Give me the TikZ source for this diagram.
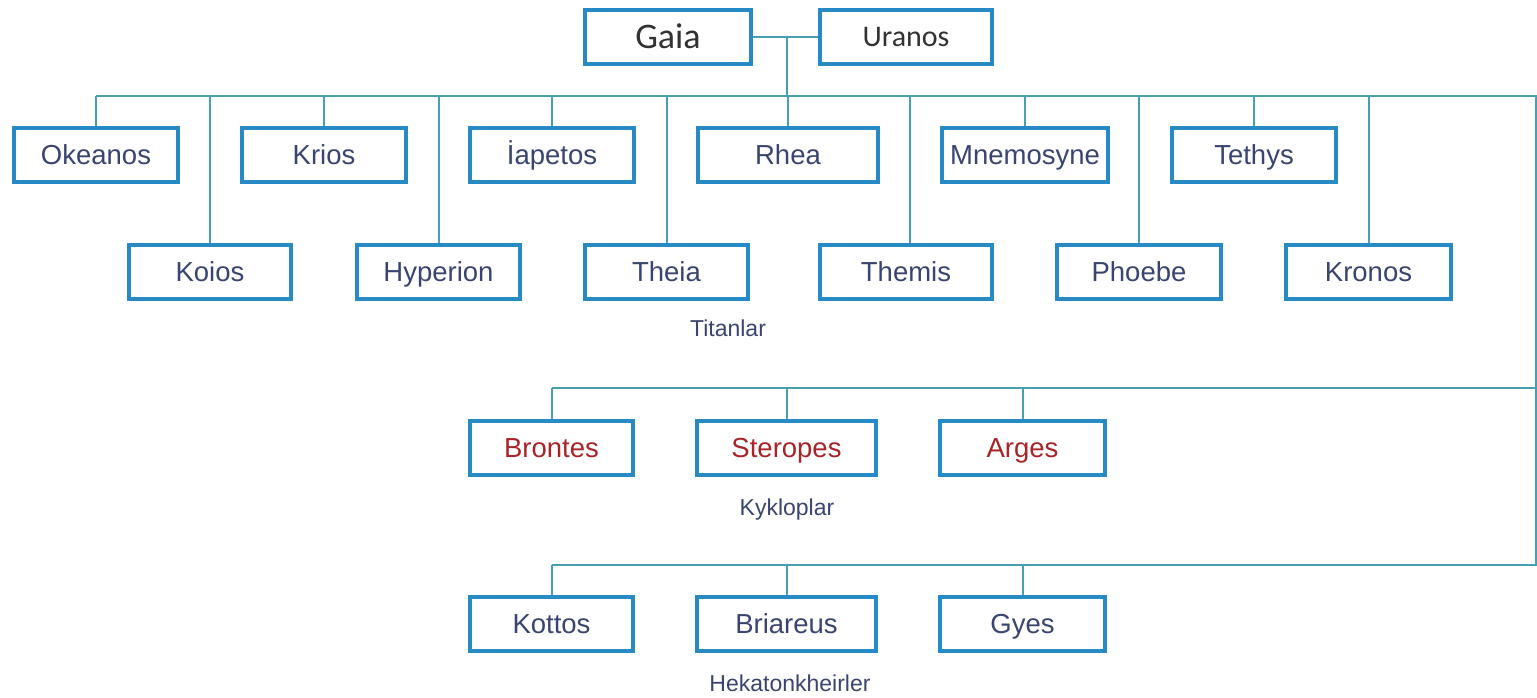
\documentclass[tikz,border=0pt]{standalone}
\usepackage{fontspec}
\setmainfont{Liberation Sans}
\newfontfamily\headfont{Carlito}
\definecolor{boxblue}{RGB}{40,138,196}
\definecolor{linecol}{RGB}{70,160,178}
\definecolor{nametext}{RGB}{58,68,112}
\definecolor{redtext}{RGB}{168,36,40}
\definecolor{headtext}{RGB}{50,50,50}
\begin{document}
\begin{tikzpicture}[x=1pt,y=-1pt,
  tbox/.style={draw=boxblue,line width=4pt,fill=white,inner sep=0pt,minimum height=54pt,minimum width=164pt,font=\fontsize{27.5}{30}\selectfont,text=nametext,text height=19.7pt,text depth=0pt},
  hbox/.style={tbox,font=\headfont\fontsize{30}{34}\selectfont,text=headtext,text height=19.3pt},
  rbox/.style={tbox,text=redtext},
  grouplabel/.style={font=\fontsize{23}{26}\selectfont,text=nametext,inner sep=0pt,text height=16.5pt,text depth=0pt},
  conn/.style={draw=linecol,line width=2pt}]
\useasboundingbox[fill=white] (0,0) rectangle (1537,697);
% parents
\node[hbox,minimum width=166pt,font=\headfont\fontsize{36}{40}\selectfont,text height=23.2pt] (gaia) at (668,36.5) {Gaia};
\node[hbox,minimum width=172pt] (uranos) at (906,36.5) {Uranos};
% titans top row
\node[tbox] (okeanos) at (96,155) {Okeanos};
\node[tbox] (krios) at (324,155) {Krios};
\node[tbox] (iapetos) at (552,155) {İapetos};
\node[tbox,minimum width=180pt] (rhea) at (788,155) {Rhea};
\node[tbox,minimum width=166pt] (mnemosyne) at (1025,155) {Mnemosyne};
\node[tbox] (tethys) at (1254,155) {Tethys};
% titans bottom row
\node[tbox,minimum width=162pt] (koios) at (210,271.5) {Koios};
\node[tbox,minimum width=163pt] (hyperion) at (438.5,271.5) {Hyperion};
\node[tbox,minimum width=163pt] (theia) at (666.5,271.5) {Theia};
\node[tbox,minimum width=172pt] (themis) at (906,271.5) {Themis};
\node[tbox] (phoebe) at (1139,271.5) {Phoebe};
\node[tbox,minimum width=165pt] (kronos) at (1368.5,271.5) {Kronos};
\node[grouplabel] (titanlar) at (728,328) {Titanlar};
% kyklopes
\node[rbox,minimum width=163pt] (brontes) at (551.5,448) {Brontes};
\node[rbox,minimum width=179pt] (steropes) at (786.5,448) {Steropes};
\node[rbox,minimum width=165pt] (arges) at (1022.5,448) {Arges};
\node[grouplabel] (kykloplar) at (787,507) {Kykloplar};
% hekatonkheires
\node[tbox,minimum width=163pt] (kottos) at (551.5,624) {Kottos};
\node[tbox,minimum width=179pt] (briareus) at (786.5,624) {Briareus};
\node[tbox,minimum width=165pt] (gyes) at (1022.5,624) {Gyes};
\node[grouplabel] (hekaton) at (790,683) {Hekatonkheirler};
% connectors
\coordinate (joint) at (787,36.5);
\coordinate (tbus) at (787,96);
\coordinate (tbusL) at (96,96);
\coordinate (tbusR) at (1536,96);
\coordinate (kbusL) at (552,388);
\coordinate (kbusR) at (1536,388);
\coordinate (hbusL) at (552,565);
\coordinate (hbusR) at (1536,565);
\draw[conn] (gaia.east) -- (uranos.west);
\draw[conn] (joint) -- (tbus);
\draw[conn] (tbusL) -- (tbusR) -- (hbusR) -- (hbusL);
\draw[conn] (kbusL) -- (kbusR);
\foreach \n in {okeanos,krios,iapetos,rhea,mnemosyne,tethys,koios,hyperion,theia,phoebe,kronos}
  \draw[conn] (\n.north) -- (\n.north |- tbus);
\path (themis.north) ++(4,0) coordinate (themistop);
\draw[conn] (themistop) -- (themistop |- tbus);
\foreach \n in {brontes,steropes,arges}
  \draw[conn] (\n.north) -- (\n.north |- kbusL);
\foreach \n in {kottos,briareus,gyes}
  \draw[conn] (\n.north) -- (\n.north |- hbusL);
\end{tikzpicture}
\end{document}
